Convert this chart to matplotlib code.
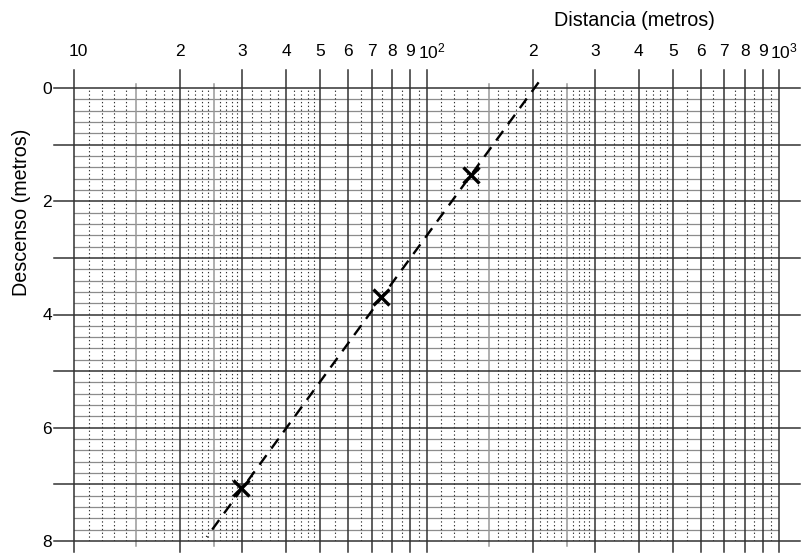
import matplotlib
matplotlib.use("Agg")
import matplotlib.pyplot as plt
from matplotlib.transforms import ScaledTranslation
import numpy as np

plt.rcParams['font.family'] = ['Liberation Sans', 'DejaVu Sans']
plt.rcParams['mathtext.fontset'] = 'custom'
plt.rcParams['mathtext.rm'] = 'Liberation Sans'
plt.rcParams['mathtext.it'] = 'Liberation Sans:italic'

# ---- data ----
tick_values = [10, 20, 30, 40, 50, 60, 70, 80, 90, 100,
               200, 300, 400, 500, 600, 700, 800, 900, 1000]
tick_labels = ['10', '2', '3', '4', '5', '6', '7', '8', '9', r'$10^2$',
               '2', '3', '4', '5', '6', '7', '8', '9', r'$10^3$']
half_values = [15, 25, 150, 250]
dotted_values = [11, 12, 13, 14, 16, 17, 18, 19, 21, 22, 23, 24, 26, 27, 28, 29,
                 32, 34, 36, 38, 42, 44, 46, 48, 55, 65, 75, 85, 95,
                 110, 120, 130, 140, 160, 170, 180, 190, 210, 220, 230, 240,
                 260, 270, 280, 290, 320, 340, 360, 380, 420, 440, 460, 480,
                 550, 650, 750, 850, 950]
y_major = [0, 1, 2, 3, 4, 5, 6, 7, 8]
y_labels_at = [0, 2, 4, 6, 8]
y_minor = [v / 5 for v in range(0, 41) if v % 5 != 0]

points_r = [133.5, 74.3, 29.7]
points_s = [1.54, 3.69, 7.07]
fit_r = [208, 23.8]
fit_s = [-0.1, 7.93]

# ---- figure ----
W, H = 806, 553
fig = plt.figure(figsize=(W / 100, H / 100), dpi=100)
ax_l, ax_r, ax_t, ax_b = 74, 779, 88, 541
ax = fig.add_axes([ax_l / W, (H - ax_b) / H, (ax_r - ax_l) / W, (ax_b - ax_t) / H])
ax.set_xscale('log')
ax.set_xlim(10, 1000)
ax.set_ylim(8, 0)
for s in ax.spines.values():
    s.set_visible(False)

dark = '#333333'
xt = ax.get_xaxis_transform()
yt = ax.get_yaxis_transform()
pw = ax_r - ax_l
ph = ax_b - ax_t

# horizontal minor lines
for y in y_minor:
    ax.plot([0, 1], [y, y], transform=yt, color='#8c8c8c', lw=0.9, zorder=1)
# dotted verticals
for x in dotted_values:
    ax.plot([x, x], [0, 1], transform=xt, color='#333333', lw=0.8,
            linestyle=(0, (1.2, 2.2)), zorder=1)
# half verticals
for x in half_values:
    ax.plot([x, x], [-5 / ph, 1 + 4 / ph], transform=xt, color='#999999',
            lw=1.1, zorder=2, clip_on=False)
# major verticals
for x in tick_values:
    ax.plot([x, x], [-11 / ph, 1 + 18 / ph], transform=xt, color=dark,
            lw=1.1, zorder=3, clip_on=False)
# major horizontals
for y in y_major:
    ax.plot([-20 / pw, 1 + 21 / pw], [y, y], transform=yt, color=dark,
            lw=1.1, zorder=3, clip_on=False)

# fit line and points
ax.plot(fit_r, fit_s, color='black', lw=1.7, linestyle=(0, (5, 3.5)), zorder=5,
        clip_on=False)
ax.plot(points_r, points_s, linestyle='none', marker='x', color='black',
        markersize=11, markeredgewidth=2.4, zorder=6)

# top tick labels drawn as text (so the 10^n labels can sit like the reference)
ax.set_xticks([])
ax.xaxis.set_minor_locator(matplotlib.ticker.NullLocator())
for x, lab in zip(tick_values, tick_labels):
    dx = 0
    if lab.startswith('$'):
        dx = 5
    elif lab == '10':
        dx = 4
    tr = xt + ScaledTranslation(dx / 100, 0, fig.dpi_scale_trans)
    ax.text(x, 1 + 37 / ph, lab, transform=tr, ha='center', va='center',
            fontsize=12.5, clip_on=False)

ax.set_yticks(y_labels_at)
ax.set_yticklabels([str(v) for v in y_labels_at])
ax.tick_params(axis='y', length=0, pad=16, labelsize=12.5)

fig.text(634 / W, 1 - 21 / H, 'Distancia (metros)', ha='center', va='center',
         fontsize=14.2)
fig.text(22 / W, 1 - 212 / H, 'Descenso (metros)', ha='center', va='center',
         rotation=90, fontsize=14.2)

fig.savefig('out.png', dpi=100)
